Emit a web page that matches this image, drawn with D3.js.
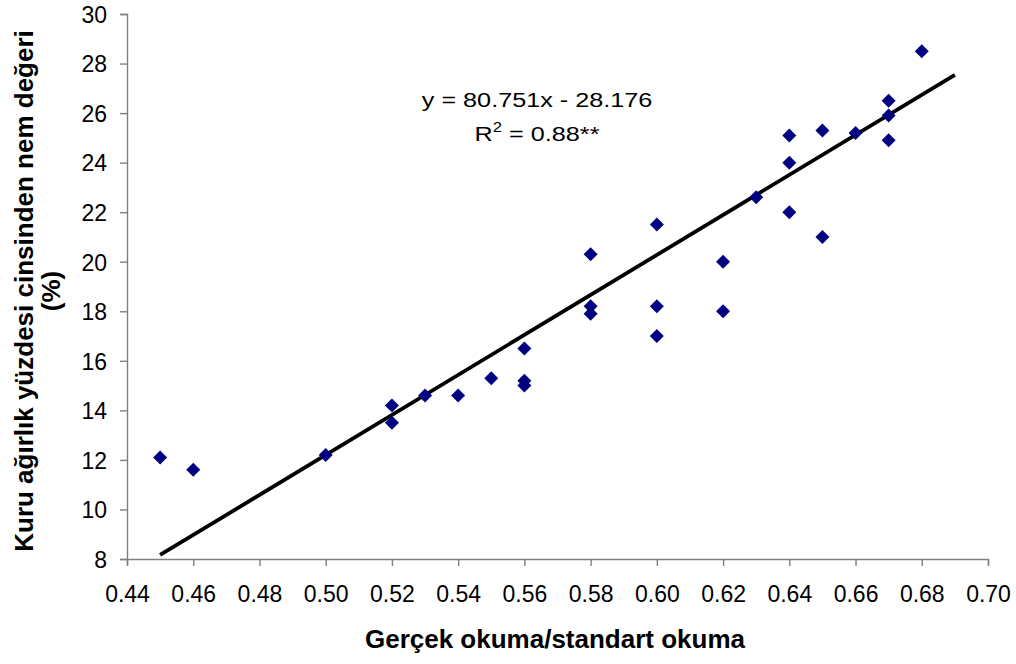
<!DOCTYPE html>
<html>
<head>
<meta charset="utf-8">
<script src="https://cdn.jsdelivr.net/npm/d3@7"></script>
<style>
  body { margin: 0; background: #fff; }
  svg text { font-family: "Liberation Sans", Arial, sans-serif; }
</style>
</head>
<body>
<svg width="1016" height="664"></svg>
<script>
// measured points: reading ratio vs moisture (% dry weight)
var xVals = [0.45, 0.46, 0.50, 0.52, 0.52, 0.53, 0.54, 0.55, 0.56, 0.56, 0.56,
             0.58, 0.58, 0.58, 0.60, 0.60, 0.60, 0.62, 0.62, 0.63, 0.64, 0.64,
             0.64, 0.65, 0.65, 0.66, 0.67, 0.67, 0.67, 0.68];
var yVals = [12.1, 11.6, 12.2, 14.2, 13.5, 14.6, 14.6, 15.3, 15.2, 15.0, 16.5,
             20.3, 18.2, 17.9, 21.5, 18.2, 17.0, 20.0, 18.0, 22.6, 25.1, 24.0,
             22.0, 25.3, 21.0, 25.2, 26.5, 25.9, 24.9, 28.5];
var xTicks = [0.44, 0.46, 0.48, 0.50, 0.52, 0.54, 0.56, 0.58, 0.60, 0.62, 0.64, 0.66, 0.68, 0.70];
var yTicks = [8, 10, 12, 14, 16, 18, 20, 22, 24, 26, 28, 30];
var slope = 80.751, intercept = -28.176;
var fitRange = [0.45, 0.69];

var svg = d3.select("svg"),
    margin = { top: 14, right: 28, bottom: 105, left: 127 },
    width = +svg.attr("width") - margin.left - margin.right,
    height = +svg.attr("height") - margin.top - margin.bottom;

var x = d3.scaleLinear().domain([0.44, 0.70]).range([0, width]),
    y = d3.scaleLinear().domain([8, 30]).range([height, 0]);

var g = svg.append("g")
    .attr("transform", "translate(" + margin.left + "," + margin.top + ")");

var xAxis = g.append("g")
    .attr("transform", "translate(0," + height + ")")
    .call(d3.axisBottom(x).tickValues(xTicks).tickFormat(d3.format(".2f")).tickSizeOuter(0).tickSize(7));

var yAxis = g.append("g")
    .call(d3.axisLeft(y).tickValues(yTicks).tickSizeOuter(0).tickSize(7).tickPadding(13));

[xAxis, yAxis].forEach(function(a) {
    a.select(".domain").attr("stroke", "#808080").attr("stroke-width", 1.4);
    a.selectAll(".tick line").attr("stroke", "#808080").attr("stroke-width", 1.4);
    a.selectAll(".tick text").attr("fill", "#000").style("font-size", "23px");
});
xAxis.selectAll(".tick text").attr("y", 43).attr("dy", 0);
yAxis.selectAll(".tick text").attr("dy", "0.36em");

// trend line
g.append("line")
    .attr("x1", x(fitRange[0])).attr("y1", y(slope * fitRange[0] + intercept))
    .attr("x2", x(fitRange[1])).attr("y2", y(slope * fitRange[1] + intercept))
    .attr("stroke", "#000").attr("stroke-width", 3.8);

// diamonds
var data = xVals.map(function(v, i) { return { x: v, y: yVals[i] }; });
g.selectAll(".pt")
    .data(data)
    .enter().append("path")
    .attr("class", "pt")
    .attr("d", "M0,-7L7,0L0,7L-7,0Z")
    .attr("fill", "#000080")
    .attr("transform", function(d) { return "translate(" + x(d.x) + "," + y(d.y) + ")"; });

// equation (text in the source is a bit wide, so stretch it)
var eqG = svg.append("g").attr("transform", "translate(537,0) scale(1.2,1)");
eqG.append("text")
    .attr("x", 0).attr("y", 107)
    .attr("text-anchor", "middle").style("font-size", "21px")
    .text("y = 80.751x - 28.176");
var r2 = eqG.append("text")
    .attr("x", 0).attr("y", 141)
    .attr("text-anchor", "middle").style("font-size", "21px");
r2.append("tspan").text("R");
r2.append("tspan").attr("dy", -9).style("font-size", "14px").text("2");
r2.append("tspan").attr("dy", 9).text(" = 0.88**");

// axis titles
svg.append("text")
    .attr("x", 555).attr("y", 648)
    .attr("text-anchor", "middle")
    .style("font-size", "26px").style("font-weight", "bold")
    .text("Gerçek okuma/standart okuma");

var yt = svg.append("text")
    .attr("transform", "translate(33,291) rotate(-90)")
    .attr("text-anchor", "middle")
    .style("font-size", "26px").style("font-weight", "bold");
yt.append("tspan").attr("x", 0).attr("y", 0).text("Kuru ağırlık yüzdesi cinsinden nem değeri");
yt.append("tspan").attr("x", 0).attr("y", 27).text("(%)");
</script>
</body>
</html>
